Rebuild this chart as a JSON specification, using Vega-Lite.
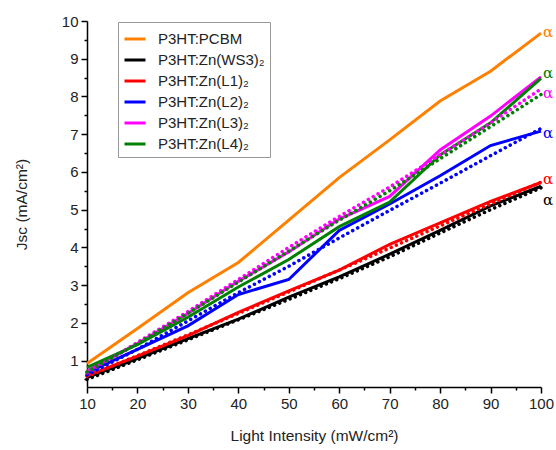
{
  "$schema": "https://vega.github.io/schema/vega-lite/v6.json",
  "autosize": "none",
  "width": 454,
  "height": 366,
  "padding": {"left": 87, "top": 21, "right": 15, "bottom": 63},
  "background": "white",
  "config": {
    "view": {"stroke": null},
    "font": "Liberation Sans",
    "axis": {"grid": false, "domainColor": "#000", "domainWidth": 1.5, "tickColor": "#000", "tickWidth": 1.5, "labelFont": "Liberation Sans", "labelFontSize": 15, "labelColor": "#222", "titleFont": "Liberation Sans", "titleFontSize": 15.5, "titleFontWeight": "normal", "titleColor": "#222"}
  },
  "datasets": {
    "measured": [
      {"series": "P3HT:PCBM", "I": 10, "J": 0.92}, {"series": "P3HT:PCBM", "I": 20, "J": 1.85}, {"series": "P3HT:PCBM", "I": 30, "J": 2.8}, {"series": "P3HT:PCBM", "I": 40, "J": 3.6}, {"series": "P3HT:PCBM", "I": 50, "J": 4.72}, {"series": "P3HT:PCBM", "I": 60, "J": 5.85}, {"series": "P3HT:PCBM", "I": 70, "J": 6.85}, {"series": "P3HT:PCBM", "I": 80, "J": 7.88}, {"series": "P3HT:PCBM", "I": 90, "J": 8.67}, {"series": "P3HT:PCBM", "I": 100, "J": 9.68},
      {"series": "P3HT:Zn(WS3)₂", "I": 10, "J": 0.55}, {"series": "P3HT:Zn(WS3)₂", "I": 20, "J": 1.05}, {"series": "P3HT:Zn(WS3)₂", "I": 30, "J": 1.58}, {"series": "P3HT:Zn(WS3)₂", "I": 40, "J": 2.1}, {"series": "P3HT:Zn(WS3)₂", "I": 50, "J": 2.68}, {"series": "P3HT:Zn(WS3)₂", "I": 60, "J": 3.22}, {"series": "P3HT:Zn(WS3)₂", "I": 70, "J": 3.82}, {"series": "P3HT:Zn(WS3)₂", "I": 80, "J": 4.45}, {"series": "P3HT:Zn(WS3)₂", "I": 90, "J": 5.1}, {"series": "P3HT:Zn(WS3)₂", "I": 100, "J": 5.62},
      {"series": "P3HT:Zn(L1)₂", "I": 10, "J": 0.6}, {"series": "P3HT:Zn(L1)₂", "I": 20, "J": 1.12}, {"series": "P3HT:Zn(L1)₂", "I": 30, "J": 1.66}, {"series": "P3HT:Zn(L1)₂", "I": 40, "J": 2.28}, {"series": "P3HT:Zn(L1)₂", "I": 50, "J": 2.85}, {"series": "P3HT:Zn(L1)₂", "I": 60, "J": 3.4}, {"series": "P3HT:Zn(L1)₂", "I": 70, "J": 4.08}, {"series": "P3HT:Zn(L1)₂", "I": 80, "J": 4.65}, {"series": "P3HT:Zn(L1)₂", "I": 90, "J": 5.22}, {"series": "P3HT:Zn(L1)₂", "I": 100, "J": 5.72},
      {"series": "P3HT:Zn(L2)₂", "I": 10, "J": 0.68}, {"series": "P3HT:Zn(L2)₂", "I": 20, "J": 1.3}, {"series": "P3HT:Zn(L2)₂", "I": 30, "J": 1.92}, {"series": "P3HT:Zn(L2)₂", "I": 40, "J": 2.75}, {"series": "P3HT:Zn(L2)₂", "I": 50, "J": 3.15}, {"series": "P3HT:Zn(L2)₂", "I": 60, "J": 4.45}, {"series": "P3HT:Zn(L2)₂", "I": 70, "J": 5.15}, {"series": "P3HT:Zn(L2)₂", "I": 80, "J": 5.9}, {"series": "P3HT:Zn(L2)₂", "I": 90, "J": 6.7}, {"series": "P3HT:Zn(L2)₂", "I": 100, "J": 7.08},
      {"series": "P3HT:Zn(L3)₂", "I": 10, "J": 0.72}, {"series": "P3HT:Zn(L3)₂", "I": 20, "J": 1.45}, {"series": "P3HT:Zn(L3)₂", "I": 30, "J": 2.25}, {"series": "P3HT:Zn(L3)₂", "I": 40, "J": 3.1}, {"series": "P3HT:Zn(L3)₂", "I": 50, "J": 3.88}, {"series": "P3HT:Zn(L3)₂", "I": 60, "J": 4.75}, {"series": "P3HT:Zn(L3)₂", "I": 70, "J": 5.35}, {"series": "P3HT:Zn(L3)₂", "I": 80, "J": 6.58}, {"series": "P3HT:Zn(L3)₂", "I": 90, "J": 7.48}, {"series": "P3HT:Zn(L3)₂", "I": 100, "J": 8.52},
      {"series": "P3HT:Zn(L4)₂", "I": 10, "J": 0.82}, {"series": "P3HT:Zn(L4)₂", "I": 20, "J": 1.42}, {"series": "P3HT:Zn(L4)₂", "I": 30, "J": 2.15}, {"series": "P3HT:Zn(L4)₂", "I": 40, "J": 2.95}, {"series": "P3HT:Zn(L4)₂", "I": 50, "J": 3.68}, {"series": "P3HT:Zn(L4)₂", "I": 60, "J": 4.55}, {"series": "P3HT:Zn(L4)₂", "I": 70, "J": 5.2}, {"series": "P3HT:Zn(L4)₂", "I": 80, "J": 6.45}, {"series": "P3HT:Zn(L4)₂", "I": 90, "J": 7.3}, {"series": "P3HT:Zn(L4)₂", "I": 100, "J": 8.48}
    ],
    "fits": [
      {"series": "P3HT:Zn(WS3)₂", "I": 10, "J": 0.5}, {"series": "P3HT:Zn(WS3)₂", "I": 20, "J": 1.02}, {"series": "P3HT:Zn(WS3)₂", "I": 30, "J": 1.55}, {"series": "P3HT:Zn(WS3)₂", "I": 40, "J": 2.08}, {"series": "P3HT:Zn(WS3)₂", "I": 50, "J": 2.62}, {"series": "P3HT:Zn(WS3)₂", "I": 60, "J": 3.17}, {"series": "P3HT:Zn(WS3)₂", "I": 70, "J": 3.75}, {"series": "P3HT:Zn(WS3)₂", "I": 80, "J": 4.38}, {"series": "P3HT:Zn(WS3)₂", "I": 90, "J": 5.0}, {"series": "P3HT:Zn(WS3)₂", "I": 100, "J": 5.58},
      {"series": "P3HT:Zn(L1)₂", "I": 10, "J": 0.58}, {"series": "P3HT:Zn(L1)₂", "I": 20, "J": 1.13}, {"series": "P3HT:Zn(L1)₂", "I": 30, "J": 1.68}, {"series": "P3HT:Zn(L1)₂", "I": 40, "J": 2.25}, {"series": "P3HT:Zn(L1)₂", "I": 50, "J": 2.82}, {"series": "P3HT:Zn(L1)₂", "I": 60, "J": 3.4}, {"series": "P3HT:Zn(L1)₂", "I": 70, "J": 3.98}, {"series": "P3HT:Zn(L1)₂", "I": 80, "J": 4.57}, {"series": "P3HT:Zn(L1)₂", "I": 90, "J": 5.15}, {"series": "P3HT:Zn(L1)₂", "I": 100, "J": 5.73},
      {"series": "P3HT:Zn(L2)₂", "I": 10, "J": 0.62}, {"series": "P3HT:Zn(L2)₂", "I": 20, "J": 1.3}, {"series": "P3HT:Zn(L2)₂", "I": 30, "J": 2.05}, {"series": "P3HT:Zn(L2)₂", "I": 40, "J": 2.8}, {"series": "P3HT:Zn(L2)₂", "I": 50, "J": 3.5}, {"series": "P3HT:Zn(L2)₂", "I": 60, "J": 4.25}, {"series": "P3HT:Zn(L2)₂", "I": 70, "J": 4.98}, {"series": "P3HT:Zn(L2)₂", "I": 80, "J": 5.7}, {"series": "P3HT:Zn(L2)₂", "I": 90, "J": 6.43}, {"series": "P3HT:Zn(L2)₂", "I": 100, "J": 7.15},
      {"series": "P3HT:Zn(L3)₂", "I": 10, "J": 0.68}, {"series": "P3HT:Zn(L3)₂", "I": 20, "J": 1.48}, {"series": "P3HT:Zn(L3)₂", "I": 30, "J": 2.3}, {"series": "P3HT:Zn(L3)₂", "I": 40, "J": 3.15}, {"series": "P3HT:Zn(L3)₂", "I": 50, "J": 4.0}, {"series": "P3HT:Zn(L3)₂", "I": 60, "J": 4.82}, {"series": "P3HT:Zn(L3)₂", "I": 70, "J": 5.6}, {"series": "P3HT:Zn(L3)₂", "I": 80, "J": 6.45}, {"series": "P3HT:Zn(L3)₂", "I": 90, "J": 7.3}, {"series": "P3HT:Zn(L3)₂", "I": 100, "J": 8.2},
      {"series": "P3HT:Zn(L4)₂", "I": 10, "J": 0.7}, {"series": "P3HT:Zn(L4)₂", "I": 20, "J": 1.45}, {"series": "P3HT:Zn(L4)₂", "I": 30, "J": 2.25}, {"series": "P3HT:Zn(L4)₂", "I": 40, "J": 3.08}, {"series": "P3HT:Zn(L4)₂", "I": 50, "J": 3.9}, {"series": "P3HT:Zn(L4)₂", "I": 60, "J": 4.72}, {"series": "P3HT:Zn(L4)₂", "I": 70, "J": 5.5}, {"series": "P3HT:Zn(L4)₂", "I": 80, "J": 6.35}, {"series": "P3HT:Zn(L4)₂", "I": 90, "J": 7.2}, {"series": "P3HT:Zn(L4)₂", "I": 100, "J": 8.05}
    ],
    "alpha": [
      {"series": "P3HT:PCBM", "I": 100, "J": 9.7, "label": "α"},
      {"series": "P3HT:Zn(L4)₂", "I": 100, "J": 8.62, "label": "α"},
      {"series": "P3HT:Zn(L3)₂", "I": 100, "J": 8.1, "label": "α"},
      {"series": "P3HT:Zn(L2)₂", "I": 100, "J": 7.03, "label": "α"},
      {"series": "P3HT:Zn(L1)₂", "I": 100, "J": 5.8, "label": "α"},
      {"series": "P3HT:Zn(WS3)₂", "I": 100, "J": 5.25, "label": "α"}
    ]
  },
  "encoding": {
    "x": {"field": "I", "type": "quantitative", "scale": {"domain": [10, 100], "nice": false},
      "axis": {"title": "Light Intensity (mW/cm²)", "values": [10, 15, 20, 25, 30, 35, 40, 45, 50, 55, 60, 65, 70, 75, 80, 85, 90, 95, 100],
        "labelExpr": "datum.value % 10 === 0 ? format(datum.value, 'd') : ''", "tickSize": {"condition": {"test": "datum.value % 10 !== 0", "value": 3}, "value": 6},
        "labelOverlap": false, "labelFlush": false, "labelPadding": 3, "titlePadding": 17}},
    "y": {"field": "J", "type": "quantitative", "scale": {"domain": [0.3, 10], "nice": false, "zero": false},
      "axis": {"title": "Jsc (mA/cm²)", "values": [0.5, 1, 1.5, 2, 2.5, 3, 3.5, 4, 4.5, 5, 5.5, 6, 6.5, 7, 7.5, 8, 8.5, 9, 9.5, 10],
        "labelExpr": "datum.value % 1 === 0 ? format(datum.value, 'd') : ''", "tickSize": {"condition": {"test": "datum.value % 1 !== 0", "value": 3}, "value": 6},
        "labelOverlap": false, "labelFlush": false, "labelPadding": 3, "titleX": -66, "titleBaseline": "middle"}},
    "color": {"field": "series", "type": "nominal",
      "scale": {"domain": ["P3HT:PCBM", "P3HT:Zn(WS3)₂", "P3HT:Zn(L1)₂", "P3HT:Zn(L2)₂", "P3HT:Zn(L3)₂", "P3HT:Zn(L4)₂"],
        "range": ["#FF8000", "#000000", "#FF0000", "#0000FF", "#FF00FF", "#008000"]}}
  },
  "layer": [
    {
      "data": {"name": "measured"},
      "mark": {"type": "line", "strokeWidth": 3},
      "encoding": {
        "color": {"field": "series", "type": "nominal",
          "legend": {"title": null, "orient": "none", "legendX": 31, "legendY": 1, "symbolType": "stroke", "symbolSize": 441, "symbolStrokeWidth": 3,
            "labelFont": "Liberation Sans", "labelFontSize": 15, "labelColor": "#222", "rowPadding": 1, "strokeColor": "#999", "padding": 5, "fillColor": "white", "labelOffset": 11}}
      }
    },
    {
      "data": {"name": "fits"},
      "mark": {"type": "line", "strokeWidth": 3.5, "strokeDash": [0.1, 5.5], "strokeCap": "round"},
      "encoding": {"color": {"field": "series", "type": "nominal", "legend": null}}
    },
    {
      "data": {"name": "alpha"},
      "mark": {"type": "text", "align": "left", "baseline": "middle", "dx": 2, "font": "DejaVu Serif", "fontSize": 15},
      "encoding": {"text": {"field": "label"}, "color": {"field": "series", "type": "nominal", "legend": null}}
    }
  ]
}
